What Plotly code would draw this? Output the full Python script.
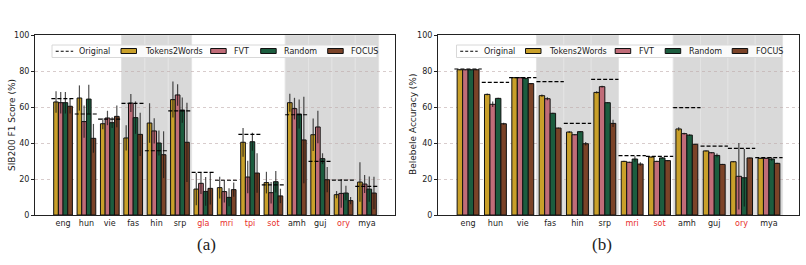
import plotly.graph_objects as go

# ---------------- data ----------------
sib_langs = ['eng', 'hun', 'vie', 'fas', 'hin', 'srp', 'gla', 'mri', 'tpi', 'sot', 'amh', 'guj', 'ory', 'mya']
sib_red = ['gla', 'mri', 'tpi', 'sot', 'ory']
sib_original = [64.6, 56.1, 53.3, 62.0, 35.7, 57.8, 23.7, 19.3, 44.8, 16.7, 55.7, 29.8, 19.4, 15.9]
sib_t2w = [62.8, 65.0, 50.7, 42.8, 51.1, 64.1, 14.4, 15.2, 40.4, 18.0, 62.4, 44.6, 11.3, 18.3]
sib_fvt = [62.4, 51.9, 53.9, 62.2, 46.7, 66.7, 17.6, 13.0, 21.1, 12.4, 59.1, 48.9, 12.0, 17.2]
sib_random = [62.4, 64.4, 51.3, 54.1, 40.0, 58.3, 13.1, 9.8, 40.7, 18.5, 56.1, 31.3, 12.2, 14.4]
sib_focus = [60.4, 42.6, 54.8, 44.8, 33.5, 40.4, 14.8, 14.1, 23.3, 10.6, 41.7, 19.6, 8.0, 12.2]
sib_t2w_err = [6, 7, 3, 7, 11, 10, 9, 6, 8, 6, 5, 9, 2, 11]
sib_fvt_err = [6, 9, 4, 5, 7, 6, 6, 6, 9, 6, 6, 9, 8, 5]
sib_random_err = [6, 8, 3, 9, 7, 7, 8, 5, 5, 6, 8, 3, 4, 7]
sib_focus_err = [4, 8, 6, 12, 13, 22, 9, 4, 11, 4, 24, 7, 2, 9]
sib_shaded = [(3, 5), (10, 13)]

bel_langs = ['eng', 'hun', 'vie', 'fas', 'hin', 'srp', 'mri', 'sot', 'amh', 'guj', 'ory', 'mya']
bel_red = ['mri', 'sot', 'ory']
bel_original = [81.1, 73.7, 76.3, 74.1, 50.9, 75.4, 33.0, 32.6, 59.6, 38.3, 37.0, 31.9]
bel_t2w = [80.7, 67.0, 76.3, 66.3, 46.1, 68.1, 29.8, 32.2, 47.8, 35.6, 29.6, 31.5]
bel_fvt = [80.7, 61.5, 76.3, 64.6, 44.6, 71.3, 29.3, 29.8, 45.2, 34.6, 21.5, 31.5]
bel_random = [80.7, 64.8, 75.9, 56.5, 46.3, 62.4, 31.1, 31.7, 44.4, 33.1, 20.7, 31.1]
bel_focus = [80.7, 50.7, 73.0, 48.3, 39.6, 50.9, 28.3, 30.2, 39.3, 28.1, 31.7, 28.7]
bel_t2w_err = [0.3, 0.5, 0.3, 0.6, 0.5, 0.6, 0.3, 0.3, 1.0, 0.3, 0.3, 0.3]
bel_fvt_err = [0.3, 1.5, 0.3, 0.8, 0.3, 0.5, 0.3, 0.3, 0.5, 0.3, 18.5, 0.3]
bel_random_err = [0.3, 0.3, 0.5, 0.3, 0.3, 0.3, 1.5, 0.5, 0.5, 1.0, 16.0, 1.0]
bel_focus_err = [0.3, 0.5, 0.3, 0.3, 1.0, 2.0, 1.0, 0.3, 0.3, 0.3, 0.3, 0.3]
bel_shaded = [(3, 5), (8, 11)]

methods = ['Tokens2Words', 'FVT', 'Random', 'FOCUS']
colors = ['#C9A02A', '#C06C78', '#1C5D3F', '#7B4328']
y_titles = ['SIB200 F1 Score (%)', 'Belebele Accuracy (%)']

# ---------------- figure geometry (pixels) ----------------
W, H = 806, 265
TOP, BOT = 35, 215
FONT = 'DejaVu Sans'
TXT = '#222222'


def px(x):
    return x / W


def py(y):
    return (BOT - y) / (BOT - TOP)


fig = go.Figure()


def add_panel(xa, ya, langs, original, series, errs):
    xs = list(range(len(langs)))
    for name, vals, err, col in zip(methods, series, errs, colors):
        fig.add_trace(go.Bar(
            x=xs, y=vals, name=name, xaxis=xa, yaxis=ya, showlegend=False,
            marker=dict(color=col, line=dict(color='#111111', width=1)),
            error_y=dict(type='data', array=err, color='rgba(20,20,20,0.75)', thickness=1.2, width=0),
        ))
    lx, ly = [], []
    for i, v in enumerate(original):
        lx += [i - 0.5, i + 0.5, None]
        ly += [v, v, None]
    fig.add_trace(go.Scatter(
        x=lx, y=ly, mode='lines', name='Original', xaxis=xa, yaxis=ya, showlegend=False,
        line=dict(color='black', width=1.2, dash='4px,2px'),
    ))


add_panel('x', 'y', sib_langs, sib_original,
          [sib_t2w, sib_fvt, sib_random, sib_focus],
          [sib_t2w_err, sib_fvt_err, sib_random_err, sib_focus_err])
add_panel('x2', 'y2', bel_langs, bel_original,
          [bel_t2w, bel_fvt, bel_random, bel_focus],
          [bel_t2w_err, bel_fvt_err, bel_random_err, bel_focus_err])

shapes = []
for xref, yref, spans in [('x', 'y domain', sib_shaded), ('x2', 'y2 domain', bel_shaded)]:
    for a, b in spans:
        for k in range(a, b + 1):
            shapes.append(dict(type='rect', xref=xref, yref=yref, x0=k - 0.5, x1=k + 0.5, y0=0, y1=1,
                               fillcolor='#d9d9d9', line=dict(color='#e3e3e3', width=1), layer='below'))

annotations = []

# ---- manual legends (one per panel) ----
legend_items = [('Original', None)] + list(zip(methods, colors))
sym_x = [3.7, 69, 158.7, 208.7, 275.7]   # symbol left offset from legend box left
for lx0 in (52, 456.5):
    shapes.append(dict(type='rect', xref='paper', yref='paper',
                       x0=px(lx0), x1=px(lx0 + 325), y0=py(45), y1=py(57.5),
                       fillcolor='rgba(255,255,255,0.85)', line=dict(color='#d8d8d8', width=1), layer='above'))
    for (name, col), sx in zip(legend_items, sym_x):
        x0 = lx0 + sx
        if col is None:
            shapes.append(dict(type='line', xref='paper', yref='paper', x0=px(x0), x1=px(x0 + 17.5),
                               y0=py(51.2), y1=py(51.2), line=dict(color='black', width=1.1, dash='3px,2px'),
                               layer='above'))
        else:
            shapes.append(dict(type='rect', xref='paper', yref='paper', x0=px(x0), x1=px(x0 + 15.5),
                               y0=py(48.5), y1=py(53.5), fillcolor=col,
                               line=dict(color='#111111', width=1), layer='above'))
        annotations.append(dict(text=name, x=px(x0 + 21.5), y=py(51.3), xref='paper', yref='paper',
                                xanchor='left', yanchor='middle', showarrow=False,
                                font=dict(family=FONT, size=8, color=TXT)))

# ---- y-axis titles and panel captions ----
for title, xc in zip(y_titles, (12, 413)):
    annotations.append(dict(text=title, x=px(xc), y=py(125), xref='paper', yref='paper',
                            textangle=-90, xanchor='center', yanchor='middle', showarrow=False,
                            font=dict(family=FONT, size=9, color=TXT)))
for cap, xc in (('(a)', 206), ('(b)', 602)):
    annotations.append(dict(text=cap, x=px(xc), y=py(244), xref='paper', yref='paper', showarrow=False,
                            xanchor='center', yanchor='middle',
                            font=dict(family='Liberation Serif', size=17, color=TXT)))


def ticktext(langs, red):
    return [f'<span style="color:#e8302c">{l}</span>' if l in red else l for l in langs]


axis_common = dict(showline=True, linecolor='#222222', linewidth=1, mirror=True, automargin=False,
                   tickfont=dict(family=FONT, size=8, color=TXT))
yaxis_common = dict(axis_common, range=[0, 100], tickvals=[0, 20, 40, 60, 80, 100],
                    showgrid=True, gridcolor='rgba(190,170,170,0.6)', griddash='dot', gridwidth=1,
                    ticks='outside', ticklen=3, tickcolor='#222222', zeroline=False)

fig.update_layout(
    width=W, height=H,
    margin=dict(l=0, r=0, t=TOP, b=H - BOT, autoexpand=False),
    paper_bgcolor='white', plot_bgcolor='white',
    barmode='group', bargap=0.2, bargroupgap=0,
    font=dict(family=FONT, size=8, color=TXT),
    showlegend=False,
    shapes=shapes,
    annotations=annotations,
    xaxis=dict(axis_common, domain=[px(35), px(395)], range=[-1.2, len(sib_langs) + 0.2],
               tickvals=list(range(len(sib_langs))), ticktext=ticktext(sib_langs, sib_red),
               showgrid=False, zeroline=False, ticks='', anchor='y'),
    yaxis=dict(yaxis_common, domain=[0, 1], anchor='x'),
    xaxis2=dict(axis_common, domain=[px(438), px(799)], range=[-1.1, len(bel_langs) + 0.1],
                tickvals=list(range(len(bel_langs))), ticktext=ticktext(bel_langs, bel_red),
                showgrid=False, zeroline=False, ticks='', anchor='y2'),
    yaxis2=dict(yaxis_common, domain=[0, 1], anchor='x2'),
)

fig.write_html('out.html')
